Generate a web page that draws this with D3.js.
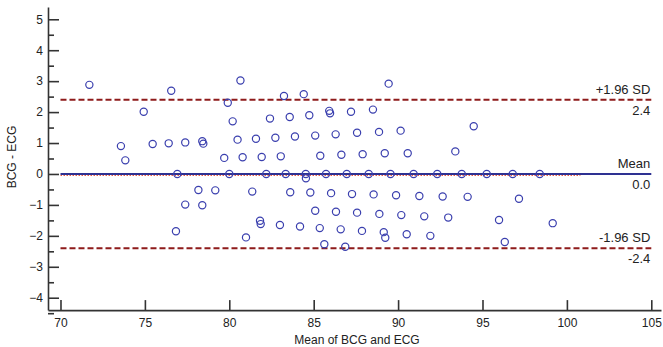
<!DOCTYPE html>
<html>
<head>
<meta charset="utf-8">
<script src="https://cdn.jsdelivr.net/npm/d3@7"></script>
<style>
  body { margin: 0; background: #fff; }
  svg { display: block; font-family: "Liberation Sans", Arial, sans-serif; }
</style>
</head>
<body>
<div id="chart"></div>
<script>
// Bland-Altman data: mean of BCG and ECG vs difference
const means = [
  71.71, 76.56, 74.93, 79.91, 80.20, 80.66, 73.58, 73.84, 75.46, 76.41,
  77.39, 78.40, 78.46, 80.49, 79.70,
  76.92, 80.00, 82.19, 83.34, 84.53, 85.73, 86.96, 88.26, 89.55, 90.92,
  92.32, 93.77, 95.25, 96.79, 98.39, 84.54,
  78.17, 79.17, 77.39, 78.40, 76.84,
  83.24, 84.41, 89.44, 82.41, 83.58, 84.74, 85.92, 85.97, 87.21, 88.51,
  81.58, 82.73, 83.89, 85.09, 86.30, 87.57, 88.87, 90.15,
  80.79, 81.92, 83.05, 85.39, 86.64, 87.90, 89.21, 90.57, 93.39, 94.48,
  81.36, 83.61, 84.80, 86.03, 87.27, 88.55, 89.88, 91.26, 92.64, 94.12, 97.16,
  85.09, 86.32, 87.57, 88.89, 90.19, 91.55, 92.97, 95.98, 99.16,
  81.82, 81.86, 83.00, 84.19, 85.36, 86.60, 87.86, 89.15, 89.24, 90.51, 91.91,
  96.32, 80.99, 85.63, 86.87
];
const diffs = [
  2.88, 2.69, 2.01, 2.30, 1.70, 3.02, 0.90, 0.44, 0.97, 0.99,
  1.02, 1.06, 0.98, 1.11, 0.52,
  0, 0, 0, 0, 0, 0, 0, 0, 0, 0,
  0, 0, 0, 0, 0, -0.14,
  -0.52, -0.53, -0.99, -1.01, -1.85,
  2.52, 2.58, 2.92, 1.79, 1.84, 1.90, 2.04, 1.96, 2.01, 2.08,
  1.14, 1.17, 1.21, 1.24, 1.28, 1.33, 1.36, 1.40,
  0.54, 0.55, 0.57, 0.59, 0.62, 0.64, 0.67, 0.67, 0.73, 1.54,
  -0.57, -0.59, -0.60, -0.62, -0.65, -0.66, -0.69, -0.71, -0.73, -0.74, -0.80,
  -1.19, -1.22, -1.25, -1.29, -1.33, -1.37, -1.41, -1.49, -1.59,
  -1.51, -1.62, -1.65, -1.70, -1.75, -1.79, -1.84, -1.88, -2.06, -1.95, -2.00,
  -2.20, -2.05, -2.27, -2.35
];
const xTicks = [70, 75, 80, 85, 90, 95, 100, 105];
const yTicks = [-4, -3, -2, -1, 0, 1, 2, 3, 4, 5];
const yMinorTicks = [-4.5, -3.5, -2.5, -1.5, -0.5, 0.5, 1.5, 2.5, 3.5, 4.5];
const meanDiff = 0.0;
const upperLoA = 2.4;
const lowerLoA = -2.4;
const lines = [
  { value: upperLoA, top: "+1.96 SD", bottom: "2.4", kind: "loa" },
  { value: meanDiff, top: "Mean", bottom: "0.0", kind: "mean" },
  { value: lowerLoA, top: "-1.96 SD", bottom: "-2.4", kind: "loa" }
];

const width = 663, height = 347;
const axisColor = "#333";
const pointColor = "#3a3fae";
const meanColor = "#2e3192";
const loaColor = "#8e1b1b";

const svg = d3.select("#chart").append("svg")
  .attr("width", width).attr("height", height);

const x = d3.scaleLinear().domain([69.26, 105.575]).range([48, 661]);
const y = d3.scaleLinear().domain([-4.4, 5.4]).range([310.1, 6.9]);

// y axis, ticks pointing inward
const yAxis = svg.append("g").attr("transform", "translate(48,0)")
  .call(d3.axisLeft(y).tickValues(yTicks).tickSize(-11).tickSizeOuter(0).tickPadding(5));
svg.append("g").attr("transform", "translate(48,0)")
  .call(d3.axisLeft(y).tickValues(yMinorTicks).tickSize(-6).tickSizeOuter(0).tickFormat(""))
  .call(g => g.select(".domain").remove());

// x axis
const xAxis = svg.append("g").attr("transform", "translate(0,310.1)")
  .call(d3.axisBottom(x).tickValues(xTicks).tickSize(-10).tickSizeOuter(0).tickPadding(8));

svg.selectAll(".tick line, .domain")
  .attr("stroke", axisColor).attr("stroke-width", 1.6);
svg.selectAll(".tick text")
  .attr("fill", "#222").style("font-size", "12px")
  .style("font-family", "'Liberation Sans', Arial, sans-serif");

// red dotted line below the mean
svg.append("line")
  .attr("x1", x(70)).attr("x2", x(100.8))
  .attr("y1", y(meanDiff) + 1.5).attr("y2", y(meanDiff) + 1.5)
  .attr("stroke", "#e8573c").attr("stroke-width", 1)
  .attr("stroke-dasharray", "1.5,1.5");

// reference lines
lines.forEach(l => {
  svg.append("line")
    .attr("x1", x(70)).attr("x2", x(105))
    .attr("y1", y(l.value)).attr("y2", y(l.value))
    .attr("stroke", l.kind === "mean" ? meanColor : loaColor)
    .attr("stroke-width", 2)
    .attr("stroke-dasharray", l.kind === "mean" ? null : "6,3");
  svg.append("text")
    .attr("x", x(105) - 1).attr("y", y(l.value) - 6)
    .attr("text-anchor", "end").attr("fill", "#222")
    .style("font-size", "13px").text(l.top);
  svg.append("text")
    .attr("x", x(105) - 1).attr("y", y(l.value) + 15)
    .attr("text-anchor", "end").attr("fill", "#222")
    .style("font-size", "13px").text(l.bottom);
});

// points
svg.append("g").selectAll("circle")
  .data(means.map((m, i) => [m, diffs[i]]))
  .join("circle")
  .attr("cx", d => x(d[0]))
  .attr("cy", d => y(d[1]))
  .attr("r", 3.6)
  .attr("fill", "none")
  .attr("stroke", pointColor)
  .attr("stroke-width", 1.2);

// axis titles
svg.append("text")
  .attr("x", 357).attr("y", 344)
  .attr("text-anchor", "middle").attr("fill", "#222")
  .style("font-size", "12px").text("Mean of BCG and ECG");
svg.append("text")
  .attr("transform", "translate(16,157) rotate(-90)")
  .attr("text-anchor", "middle").attr("fill", "#222")
  .style("font-size", "12px").text("BCG - ECG");
</script>
</body>
</html>
